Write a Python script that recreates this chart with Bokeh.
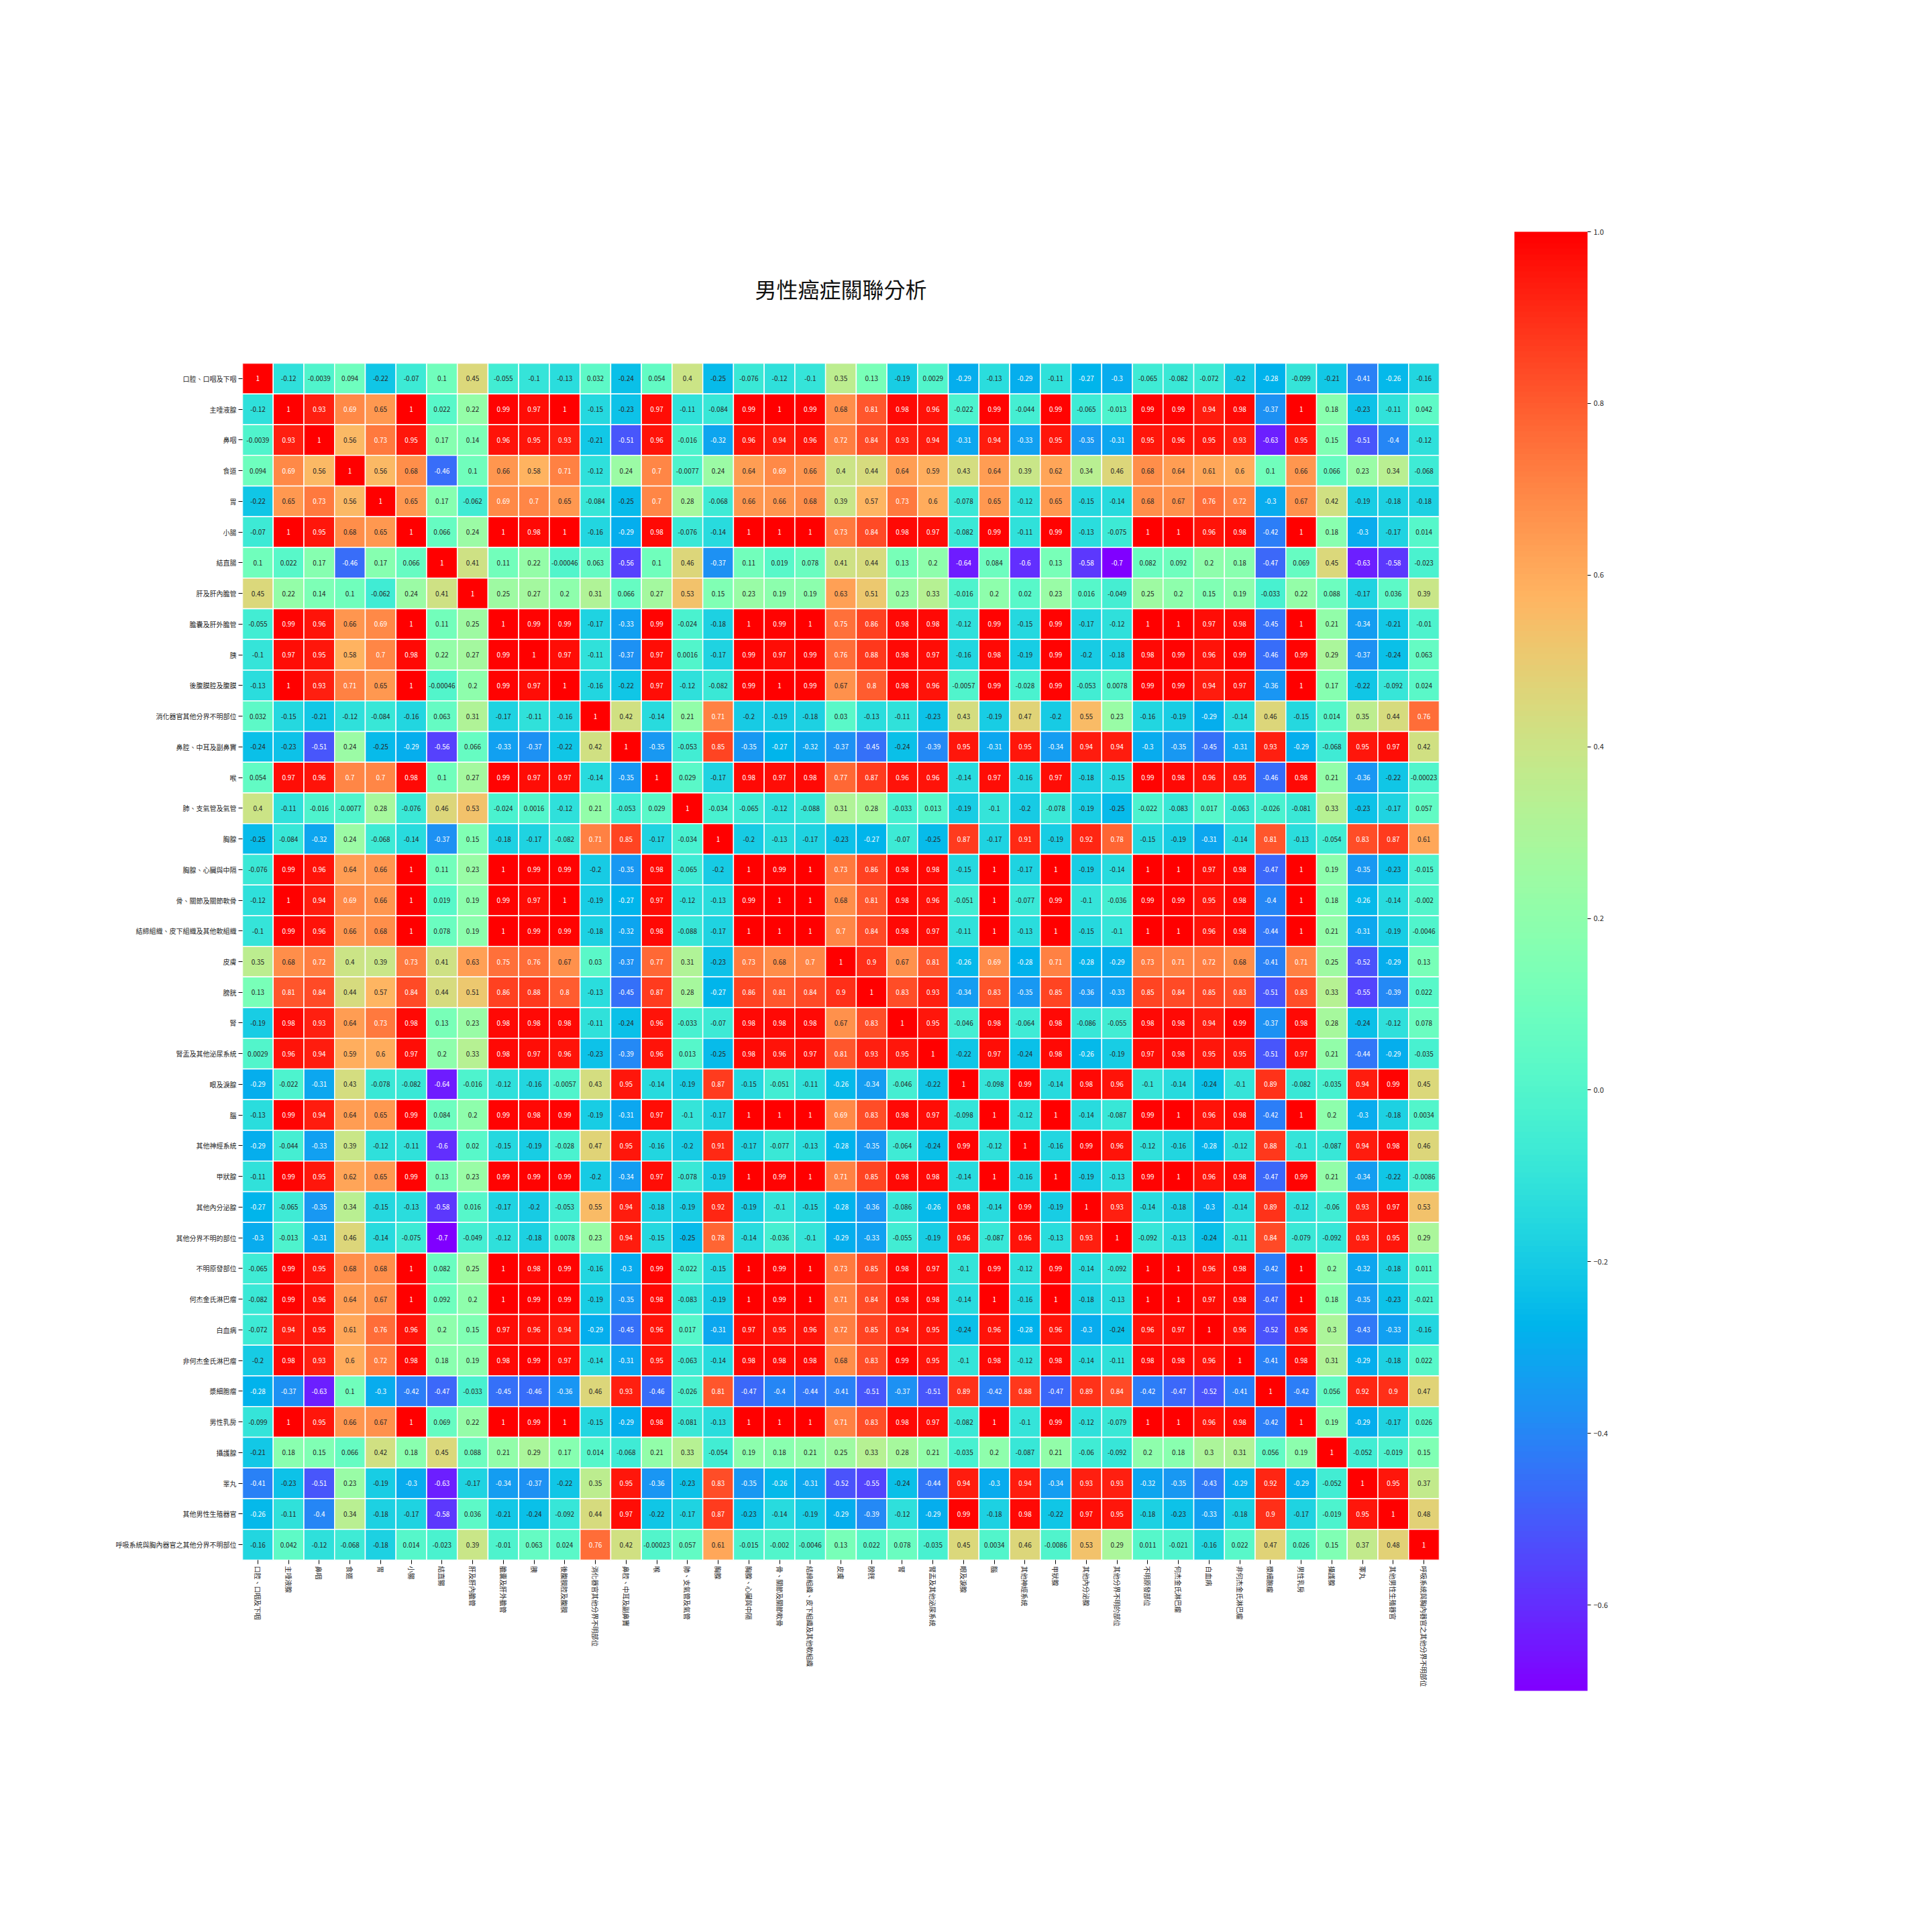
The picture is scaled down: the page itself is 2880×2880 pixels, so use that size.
import math
from bokeh.plotting import figure
from bokeh.models import ColumnDataSource, LinearColorMapper, ColorBar, FixedTicker, Title, FactorRange
from bokeh.core.properties import value
from bokeh.embed import file_html
from bokeh.resources import INLINE

title_text = "男性癌症關聯分析"
labels = ["口腔、口咽及下咽","主唾液腺","鼻咽","食道","胃","小腸","結直腸","肝及肝內膽管","膽囊及肝外膽管","胰",
"後腹膜腔及腹膜","消化器官其他分界不明部位","鼻腔、中耳及副鼻竇","喉","肺、支氣管及氣管","胸腺","胸腺、心臟與中隔",
"骨、關節及關節軟骨","結締組織、皮下組織及其他軟組織","皮膚","膀胱","腎","腎盂及其他泌尿系統","眼及淚腺","腦",
"其他神經系統","甲狀腺","其他內分泌腺","其他分界不明的部位","不明原發部位","何杰金氏淋巴瘤","白血病","非何杰金氏淋巴瘤",
"漿細胞瘤","男性乳房","攝護腺","睪丸","其他男性生殖器官","呼吸系統與胸內器官之其他分界不明部位"]

# upper triangle of the correlation matrix, each row starts on the diagonal
r00 = [1,-0.12,-0.0039,0.094,-0.22,-0.07,0.1,0.45,-0.055,-0.1,-0.13,0.032,-0.24,0.054,0.4,-0.25,-0.076,-0.12,-0.1,0.35,0.13,-0.19,0.0029,-0.29,-0.13,-0.29,-0.11,-0.27,-0.3,-0.065,-0.082,-0.072,-0.2,-0.28,-0.099,-0.21,-0.41,-0.26,-0.16]
r01 = [1,0.93,0.69,0.65,1,0.022,0.22,0.99,0.97,1,-0.15,-0.23,0.97,-0.11,-0.084,0.99,1,0.99,0.68,0.81,0.98,0.96,-0.022,0.99,-0.044,0.99,-0.065,-0.013,0.99,0.99,0.94,0.98,-0.37,1,0.18,-0.23,-0.11,0.042]
r02 = [1,0.56,0.73,0.95,0.17,0.14,0.96,0.95,0.93,-0.21,-0.51,0.96,-0.016,-0.32,0.96,0.94,0.96,0.72,0.84,0.93,0.94,-0.31,0.94,-0.33,0.95,-0.35,-0.31,0.95,0.96,0.95,0.93,-0.63,0.95,0.15,-0.51,-0.4,-0.12]
r03 = [1,0.56,0.68,-0.46,0.1,0.66,0.58,0.71,-0.12,0.24,0.7,-0.0077,0.24,0.64,0.69,0.66,0.4,0.44,0.64,0.59,0.43,0.64,0.39,0.62,0.34,0.46,0.68,0.64,0.61,0.6,0.1,0.66,0.066,0.23,0.34,-0.068]
r04 = [1,0.65,0.17,-0.062,0.69,0.7,0.65,-0.084,-0.25,0.7,0.28,-0.068,0.66,0.66,0.68,0.39,0.57,0.73,0.6,-0.078,0.65,-0.12,0.65,-0.15,-0.14,0.68,0.67,0.76,0.72,-0.3,0.67,0.42,-0.19,-0.18,-0.18]
r05 = [1,0.066,0.24,1,0.98,1,-0.16,-0.29,0.98,-0.076,-0.14,1,1,1,0.73,0.84,0.98,0.97,-0.082,0.99,-0.11,0.99,-0.13,-0.075,1,1,0.96,0.98,-0.42,1,0.18,-0.3,-0.17,0.014]
r06 = [1,0.41,0.11,0.22,-0.00046,0.063,-0.56,0.1,0.46,-0.37,0.11,0.019,0.078,0.41,0.44,0.13,0.2,-0.64,0.084,-0.6,0.13,-0.58,-0.7,0.082,0.092,0.2,0.18,-0.47,0.069,0.45,-0.63,-0.58,-0.023]
r07 = [1,0.25,0.27,0.2,0.31,0.066,0.27,0.53,0.15,0.23,0.19,0.19,0.63,0.51,0.23,0.33,-0.016,0.2,0.02,0.23,0.016,-0.049,0.25,0.2,0.15,0.19,-0.033,0.22,0.088,-0.17,0.036,0.39]
r08 = [1,0.99,0.99,-0.17,-0.33,0.99,-0.024,-0.18,1,0.99,1,0.75,0.86,0.98,0.98,-0.12,0.99,-0.15,0.99,-0.17,-0.12,1,1,0.97,0.98,-0.45,1,0.21,-0.34,-0.21,-0.01]
r09 = [1,0.97,-0.11,-0.37,0.97,0.0016,-0.17,0.99,0.97,0.99,0.76,0.88,0.98,0.97,-0.16,0.98,-0.19,0.99,-0.2,-0.18,0.98,0.99,0.96,0.99,-0.46,0.99,0.29,-0.37,-0.24,0.063]
r10 = [1,-0.16,-0.22,0.97,-0.12,-0.082,0.99,1,0.99,0.67,0.8,0.98,0.96,-0.0057,0.99,-0.028,0.99,-0.053,0.0078,0.99,0.99,0.94,0.97,-0.36,1,0.17,-0.22,-0.092,0.024]
r11 = [1,0.42,-0.14,0.21,0.71,-0.2,-0.19,-0.18,0.03,-0.13,-0.11,-0.23,0.43,-0.19,0.47,-0.2,0.55,0.23,-0.16,-0.19,-0.29,-0.14,0.46,-0.15,0.014,0.35,0.44,0.76]
r12 = [1,-0.35,-0.053,0.85,-0.35,-0.27,-0.32,-0.37,-0.45,-0.24,-0.39,0.95,-0.31,0.95,-0.34,0.94,0.94,-0.3,-0.35,-0.45,-0.31,0.93,-0.29,-0.068,0.95,0.97,0.42]
r13 = [1,0.029,-0.17,0.98,0.97,0.98,0.77,0.87,0.96,0.96,-0.14,0.97,-0.16,0.97,-0.18,-0.15,0.99,0.98,0.96,0.95,-0.46,0.98,0.21,-0.36,-0.22,-0.00023]
r14 = [1,-0.034,-0.065,-0.12,-0.088,0.31,0.28,-0.033,0.013,-0.19,-0.1,-0.2,-0.078,-0.19,-0.25,-0.022,-0.083,0.017,-0.063,-0.026,-0.081,0.33,-0.23,-0.17,0.057]
r15 = [1,-0.2,-0.13,-0.17,-0.23,-0.27,-0.07,-0.25,0.87,-0.17,0.91,-0.19,0.92,0.78,-0.15,-0.19,-0.31,-0.14,0.81,-0.13,-0.054,0.83,0.87,0.61]
r16 = [1,0.99,1,0.73,0.86,0.98,0.98,-0.15,1,-0.17,1,-0.19,-0.14,1,1,0.97,0.98,-0.47,1,0.19,-0.35,-0.23,-0.015]
r17 = [1,1,0.68,0.81,0.98,0.96,-0.051,1,-0.077,0.99,-0.1,-0.036,0.99,0.99,0.95,0.98,-0.4,1,0.18,-0.26,-0.14,-0.002]
r18 = [1,0.7,0.84,0.98,0.97,-0.11,1,-0.13,1,-0.15,-0.1,1,1,0.96,0.98,-0.44,1,0.21,-0.31,-0.19,-0.0046]
r19 = [1,0.9,0.67,0.81,-0.26,0.69,-0.28,0.71,-0.28,-0.29,0.73,0.71,0.72,0.68,-0.41,0.71,0.25,-0.52,-0.29,0.13]
r20 = [1,0.83,0.93,-0.34,0.83,-0.35,0.85,-0.36,-0.33,0.85,0.84,0.85,0.83,-0.51,0.83,0.33,-0.55,-0.39,0.022]
r21 = [1,0.95,-0.046,0.98,-0.064,0.98,-0.086,-0.055,0.98,0.98,0.94,0.99,-0.37,0.98,0.28,-0.24,-0.12,0.078]
r22 = [1,-0.22,0.97,-0.24,0.98,-0.26,-0.19,0.97,0.98,0.95,0.95,-0.51,0.97,0.21,-0.44,-0.29,-0.035]
r23 = [1,-0.098,0.99,-0.14,0.98,0.96,-0.1,-0.14,-0.24,-0.1,0.89,-0.082,-0.035,0.94,0.99,0.45]
r24 = [1,-0.12,1,-0.14,-0.087,0.99,1,0.96,0.98,-0.42,1,0.2,-0.3,-0.18,0.0034]
r25 = [1,-0.16,0.99,0.96,-0.12,-0.16,-0.28,-0.12,0.88,-0.1,-0.087,0.94,0.98,0.46]
r26 = [1,-0.19,-0.13,0.99,1,0.96,0.98,-0.47,0.99,0.21,-0.34,-0.22,-0.0086]
r27 = [1,0.93,-0.14,-0.18,-0.3,-0.14,0.89,-0.12,-0.06,0.93,0.97,0.53]
r28 = [1,-0.092,-0.13,-0.24,-0.11,0.84,-0.079,-0.092,0.93,0.95,0.29]
r29 = [1,1,0.96,0.98,-0.42,1,0.2,-0.32,-0.18,0.011]
r30 = [1,0.97,0.98,-0.47,1,0.18,-0.35,-0.23,-0.021]
r31 = [1,0.96,-0.52,0.96,0.3,-0.43,-0.33,-0.16]
r32 = [1,-0.41,0.98,0.31,-0.29,-0.18,0.022]
r33 = [1,-0.42,0.056,0.92,0.9,0.47]
r34 = [1,0.19,-0.29,-0.17,0.026]
r35 = [1,-0.052,-0.019,0.15]
r36 = [1,0.95,0.37]
r37 = [1,0.48]
r38 = [1]
upper = [r00,r01,r02,r03,r04,r05,r06,r07,r08,r09,r10,r11,r12,r13,r14,r15,r16,r17,r18,r19,
         r20,r21,r22,r23,r24,r25,r26,r27,r28,r29,r30,r31,r32,r33,r34,r35,r36,r37,r38]
colorbar_ticks = [-0.6,-0.4,-0.2,0.0,0.2,0.4,0.6,0.8,1.0]
vmin, vmax = -0.7, 1.0

def clip(v):
    return min(max(v,0.0),1.0)
def rainbow(t):
    return (clip(abs(2*t-0.5)), clip(math.sin(math.pi*t)), clip(math.cos(math.pi*t/2)))
def to_hex(c):
    return "#%02x%02x%02x" % tuple(int(round(v*255)) for v in c)
palette = [to_hex(rainbow(i/255)) for i in range(256)]

def lin(v):
    return v/12.92 if v <= 0.03928 else ((v+0.055)/1.055)**2.4
def ink(v):
    t = clip((v-vmin)/(vmax-vmin))
    r,g,b = rainbow(min(int(t*256),255)/255)
    L = .2126*lin(r)+.7152*lin(g)+.0722*lin(b)
    return "#ffffff" if L < .408 else "#262626"

xs, ys, vals, txt, inks = [], [], [], [], []
for i, row in enumerate(upper):
    assert len(row) == len(labels)-i, i
    for k, v in enumerate(row):
        j = i+k
        pairs = [(i,j)] if i == j else [(i,j),(j,i)]
        for a,b in pairs:
            ys.append(labels[a]); xs.append(labels[b]); vals.append(v)
            txt.append("%.2g" % v); inks.append(ink(v))
src = ColumnDataSource(dict(x=xs,y=ys,v=vals,t=txt,c=inks))

FONT = "Noto Sans CJK TC"
p = figure(x_range=FactorRange(factors=labels, factor_padding=0, range_padding=0),
           y_range=FactorRange(factors=labels[::-1], factor_padding=0, range_padding=0),
           frame_width=1784, frame_height=1784, output_backend="svg", toolbar_location=None,
           min_border_left=361, min_border_right=727, min_border_top=541, min_border_bottom=547,
           outline_line_color=None, background_fill_color="white")
mapper = LinearColorMapper(palette=palette, low=vmin, high=vmax)
p.rect(x="x", y="y", width=1, height=1, source=src,
       fill_color={"field":"v","transform":mapper}, line_color="white", line_width=1.5)
p.text(x="x", y="y", text="t", source=src, text_color="c", text_align="center", text_baseline="middle",
       text_font=value(FONT), text_font_size="10px")

p.xgrid.visible = False; p.ygrid.visible = False
for ax in (p.xaxis[0], p.yaxis[0]):
    ax.axis_line_color = None
    ax.major_tick_line_color = "black"
    ax.major_tick_in = 0
    ax.major_tick_out = 6
    ax.major_label_text_font = FONT
    ax.major_label_text_font_size = "10px"
    ax.major_label_text_color = "#262626"
    ax.major_label_standoff = 3
    ax.minor_tick_line_color = None
p.xaxis[0].major_label_orientation = "vertical"

p.title = Title(text=title_text, align="center", text_font=FONT, text_font_size="32px",
                text_font_style="normal", text_color="#111111", standoff=178)

cb = ColorBar(color_mapper=mapper, ticker=FixedTicker(ticks=colorbar_ticks),
              major_label_overrides={t: ("%.1f" % t).replace("-", "\u2212") for t in colorbar_ticks},
              width=109, height=2175, padding=0, margin=0,
              location=(1896, -195), border_line_color=None, background_fill_color=None,
              major_tick_in=0, major_tick_out=5, major_tick_line_color="black", bar_line_color=None,
              major_label_text_font=FONT, major_label_text_font_size="11px", major_label_text_color="#262626",
              label_standoff=4)
p.add_layout(cb, "center")

open("out.html", "w").write(file_html(p, INLINE))
